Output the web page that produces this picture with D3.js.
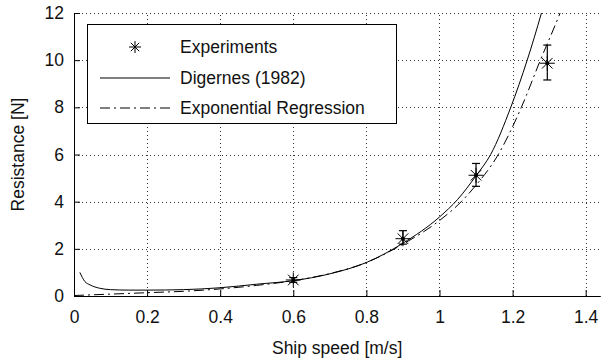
<!DOCTYPE html>
<html>
<head>
<meta charset="utf-8">
<script src="https://cdn.jsdelivr.net/npm/d3@7"></script>
<style>
  body { margin: 0; background: #fff; }
  svg { display: block; font-family: "Liberation Sans", Arial, sans-serif; }
</style>
</head>
<body>
<div id="chart"></div>
<script>
// data
const expSpeed = [0.6, 0.9, 1.1, 1.295];
const expRes = [0.68, 2.43, 5.12, 9.87];
const expLow = [0.58, 2.2, 4.65, 9.16];
const expHigh = [0.78, 2.77, 5.62, 10.64];

const digSpeed = [0.016, 0.03, 0.044, 0.07, 0.1, 0.15, 0.2, 0.3, 0.4, 0.5, 0.6, 0.7, 0.8, 0.9, 1.0, 1.05, 1.1, 1.14, 1.195, 1.24, 1.279, 1.29];
const digRes = [1.0, 0.61, 0.47, 0.33, 0.27, 0.25, 0.25, 0.27, 0.35, 0.5, 0.65, 0.94, 1.42, 2.24, 3.35, 4.1, 5.1, 6.0, 8.0, 10.0, 12.0, 12.6];

const regSpeed = [0, 0.05, 0.1, 0.2, 0.3, 0.4, 0.5, 0.6, 0.7, 0.8, 0.9, 1.0, 1.053, 1.1, 1.157, 1.224, 1.276, 1.33, 1.34];
const regRes = [0.02, 0.05, 0.08, 0.14, 0.2, 0.3, 0.45, 0.65, 0.95, 1.42, 2.2, 3.2, 3.9, 4.7, 5.9, 8.0, 10.0, 12.0, 12.4];

const xTicks = [0, 0.2, 0.4, 0.6, 0.8, 1, 1.2, 1.4];
const yTicks = [0, 2, 4, 6, 8, 10, 12];
const legendLabels = ["Experiments", "Digernes (1982)", "Exponential Regression"];

const width = 608;
const height = 362;
const plot = { left: 74, right: 600.3, top: 13, bottom: 296 };
const fontSize = 17.5;

const svg = d3.select("#chart")
  .append("svg")
  .attr("width", width)
  .attr("height", height);

const x = d3.scaleLinear().domain([0, 1.44]).range([plot.left, plot.right]);
const y = d3.scaleLinear().domain([0, 12]).range([plot.bottom, plot.top]);

// dotted grid
const grid = svg.append("g").attr("stroke", "#333").attr("stroke-width", 1)
  .attr("stroke-dasharray", "1,3").attr("shape-rendering", "crispEdges");
grid.selectAll("line.gx").data(xTicks.slice(1)).join("line")
  .attr("x1", (d) => Math.round(x(d)) + 0.5).attr("x2", (d) => Math.round(x(d)) + 0.5)
  .attr("y1", plot.bottom).attr("y2", plot.top);
grid.selectAll("line.gy").data(yTicks.slice(1)).join("line")
  .attr("class", "gy")
  .attr("x1", plot.left).attr("x2", plot.right)
  .attr("y1", (d) => Math.round(y(d)) + 0.5).attr("y2", (d) => Math.round(y(d)) + 0.5);

// axes (ticks inside)
const xAxis = svg.append("g")
  .attr("transform", `translate(0,${plot.bottom})`)
  .call(d3.axisBottom(x).tickValues(xTicks).tickSizeInner(-6).tickSizeOuter(0).tickPadding(15)
    .tickFormat((d) => d3.format("")(d)));
const yAxis = svg.append("g")
  .attr("transform", `translate(${plot.left},0)`)
  .call(d3.axisLeft(y).tickValues(yTicks).tickSizeInner(-6).tickSizeOuter(0).tickPadding(10));

[xAxis, yAxis].forEach((a) => {
  a.selectAll("text").attr("font-size", fontSize).attr("fill", "#111").attr("font-family", "Liberation Sans, Arial, sans-serif");
  a.selectAll("line").attr("stroke", "#000");
  a.select(".domain").attr("stroke", "#000");
});

// axis labels
svg.append("text")
  .attr("x", (plot.left + plot.right) / 2).attr("y", 354)
  .attr("text-anchor", "middle").attr("font-size", fontSize).attr("fill", "#111")
  .text("Ship speed [m/s]");
svg.append("text")
  .attr("transform", `translate(24,${(plot.top + plot.bottom) / 2}) rotate(-90)`)
  .attr("text-anchor", "middle").attr("font-size", fontSize).attr("fill", "#111")
  .text("Resistance [N]");

// curves
svg.append("clipPath").attr("id", "clip")
  .append("rect").attr("x", plot.left).attr("y", plot.top)
  .attr("width", plot.right - plot.left).attr("height", plot.bottom - plot.top);

const line = d3.line().x((d) => x(d[0])).y((d) => y(d[1])).curve(d3.curveMonotoneX);

svg.append("path")
  .datum(d3.zip(digSpeed, digRes))
  .attr("clip-path", "url(#clip)")
  .attr("fill", "none").attr("stroke", "#000").attr("stroke-width", 1)
  .attr("d", line);

svg.append("path")
  .datum(d3.zip(regSpeed, regRes))
  .attr("clip-path", "url(#clip)")
  .attr("fill", "none").attr("stroke", "#000").attr("stroke-width", 1)
  .attr("stroke-dasharray", "10,4,2,4")
  .attr("d", line);

// asterisk marker
function star(g, cx, cy, r) {
  [0, 45, 90, 135].forEach((a) => {
    const dx = r * Math.cos((a * Math.PI) / 180);
    const dy = r * Math.sin((a * Math.PI) / 180);
    g.append("line")
      .attr("x1", cx - dx).attr("y1", cy - dy)
      .attr("x2", cx + dx).attr("y2", cy + dy)
      .attr("stroke", "#000").attr("stroke-width", 1);
  });
}

// experiments with error bars
const exp = svg.append("g");
expSpeed.forEach((s, i) => {
  const cx = x(s);
  exp.append("line").attr("x1", cx).attr("x2", cx)
    .attr("y1", y(expLow[i])).attr("y2", y(expHigh[i]))
    .attr("stroke", "#000").attr("stroke-width", 1.2);
  [expLow[i], expHigh[i]].forEach((v) => {
    exp.append("line").attr("x1", cx - 4).attr("x2", cx + 4)
      .attr("y1", y(v)).attr("y2", y(v))
      .attr("stroke", "#000").attr("stroke-width", 1.2);
  });
  star(exp, cx, y(expRes[i]), 7.5);
  exp.append("circle").attr("cx", cx).attr("cy", y(expRes[i])).attr("r", 2).attr("fill", "#000");
});

// legend
const legend = svg.append("g");
legend.append("rect")
  .attr("x", 87.5).attr("y", 24.5).attr("width", 309).attr("height", 99)
  .attr("fill", "#fff").attr("stroke", "#000").attr("stroke-width", 1);
const rowY = [47, 78, 108];
star(legend, 135, rowY[0], 6);
legend.append("line").attr("x1", 100).attr("x2", 170).attr("y1", rowY[1]).attr("y2", rowY[1])
  .attr("stroke", "#000");
legend.append("line").attr("x1", 100).attr("x2", 170).attr("y1", rowY[2]).attr("y2", rowY[2])
  .attr("stroke", "#000").attr("stroke-dasharray", "10,4,2,4");
legend.selectAll("text").data(legendLabels).join("text")
  .attr("x", 180).attr("y", (d, i) => rowY[i] + 6)
  .attr("font-size", fontSize).attr("fill", "#111")
  .text((d) => d);
</script>
</body>
</html>
